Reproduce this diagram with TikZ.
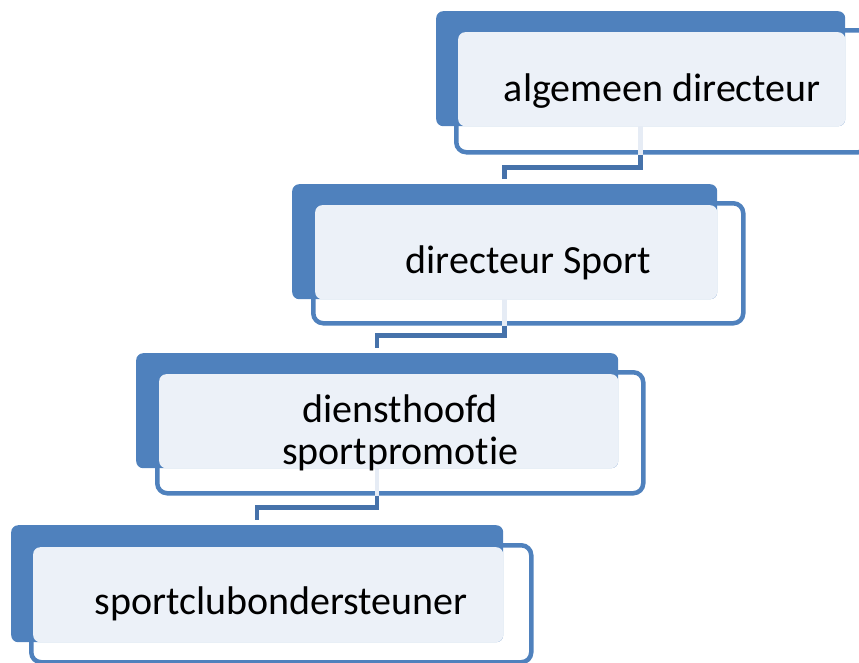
\documentclass[tikz,border=0pt]{standalone}
\usepackage{fontspec}
\setmainfont{Carlito}[Ligatures=NoCommon]
\usetikzlibrary{calc}
\definecolor{blk}{HTML}{4F81BD}
\definecolor{lite}{HTML}{ECF1F8}
\definecolor{stubc}{HTML}{E6ECF5}
\definecolor{conn}{HTML}{4672AA}
\tikzset{
  back/.style={fill=blk, rounded corners=7pt, inner sep=0pt, anchor=north west},
  outl/.style={draw=blk, line width=4.5pt, fill=white, rounded corners=10pt, inner sep=0pt, anchor=north west},
  litebox/.style={fill=lite, rounded corners=7pt, inner sep=0pt, anchor=north west},
  lbl/.style={font=\fontsize{40}{42}\selectfont, align=center, inner sep=0pt},
  link/.style={draw=conn, line width=4.5pt},
  stub/.style={draw=stubc, line width=4.5pt}
}
\begin{document}
\begin{tikzpicture}[x=1pt,y=-1pt]
\useasboundingbox (0,0) rectangle (859,662);
% level 1
\node[outl, minimum width=412pt, minimum height=122pt] (o1) at (454,28) {};
\node[back, minimum width=409pt, minimum height=115pt] (b1) at (436,11) {};
\node[litebox, minimum width=387pt, minimum height=94pt] (l1) at (458,32) {};
% level 2
\node[outl, minimum width=430pt, minimum height=120pt] (o2) at (311,201) {};
\node[back, minimum width=425pt, minimum height=115pt] (b2) at (292,184) {};
\node[litebox, minimum width=402pt, minimum height=94pt] (l2) at (315,205) {};
% level 3
\node[outl, minimum width=486pt, minimum height=121pt] (o3) at (155,370) {};
\node[back, minimum width=482pt, minimum height=115pt] (b3) at (136,353) {};
\node[litebox, minimum width=459pt, minimum height=94pt] (l3) at (159,374) {};
% level 4
\node[outl, minimum width=500pt, minimum height=117pt] (o4) at (29,543) {};
\node[back, minimum width=492pt, minimum height=117pt] (b4) at (11,525) {};
\node[litebox, minimum width=470pt, minimum height=95pt] (l4) at (33,547) {};
% connectors
\draw[stub] (b1.south) -- (b1.south |- o1.south);
\draw[link] (b1.south |- o1.south) -- ++(0,13) -| ($(b2.north)+(0,-5)$);
\draw[stub] (b2.south) -- (b2.south |- o2.south);
\draw[link] (b2.south |- o2.south) -- ++(0,10) -| ($(b3.north)+(0,-5)$);
\draw[stub] (b3.south) -- (b3.south |- o3.south);
\draw[link] (b3.south |- o3.south) -- ++(0,12) -| ($(b4.north)+(0,-5)$);
% labels
\node[lbl] (t1) at (o1.center) {algemeen directeur};
\node[lbl] (t2) at (o2.center) {directeur Sport};
\node[lbl] (t3) at (o3.center) {diensthoofd\\sportpromotie};
\node[lbl] (t4) at (o4.center) {sportclubondersteuner};
\end{tikzpicture}
\end{document}
